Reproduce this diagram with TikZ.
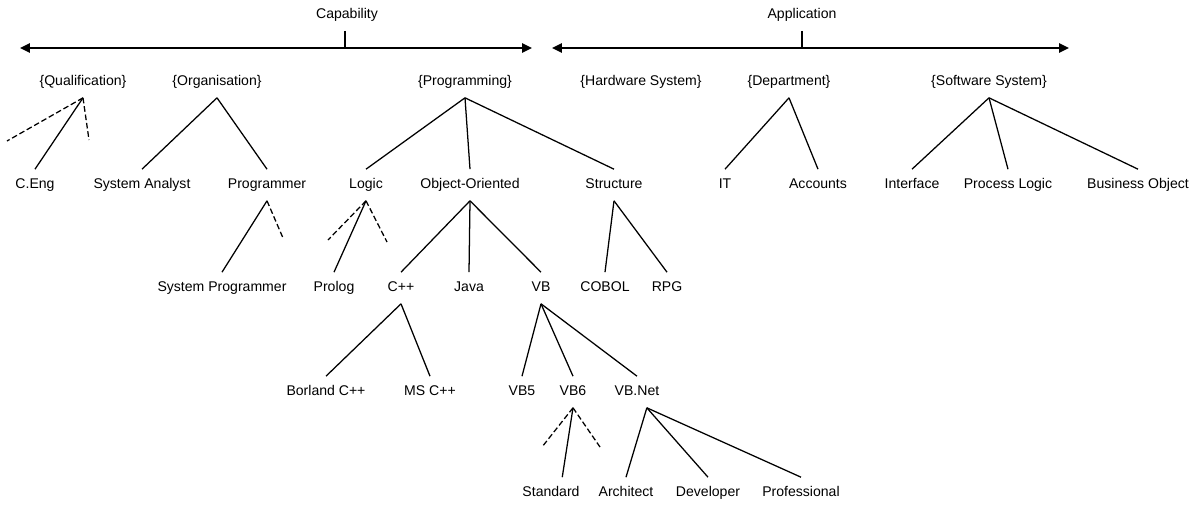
\documentclass[tikz,border=0pt]{standalone}
\usepackage{fontspec}
\setmainfont{Liberation Sans}
\usepackage{tikz}
\usetikzlibrary{arrows.meta}

\tikzset{
  lbl/.style={inner sep=0pt, outer sep=6.5pt, text height=7.5pt, text depth=2pt,
              font=\fontsize{10}{12}\selectfont},
  link/.style={line width=0.9pt},
  stub/.style={line width=0.9pt, dash pattern=on 4pt off 2pt},
  axis/.style={line width=1.2pt, {Triangle[length=7pt,width=6.5pt]}-{Triangle[length=7pt,width=6.5pt]}}
}

\begin{document}
\begin{tikzpicture}[x=0.025cm, y=-0.025cm]
  \useasboundingbox (0,0) rectangle (1203,507);

  % the two axes
  \coordinate (capL) at (20,48);
  \coordinate (capR) at (532,48);
  \coordinate (capT) at (345,48);
  \coordinate (appL) at (552,48);
  \coordinate (appR) at (1069,48);
  \coordinate (appT) at (802,48);
  \draw[axis] (capL) -- (capR);
  \draw[axis] (appL) -- (appR);
  \node[lbl] (cap) at (347,15) {Capability};
  \node[lbl] (app) at (802,15) {Application};
  \draw[link] (cap.south -| capT) -- (capT);
  \draw[link] (app.south) -- (appT);

  % first level
  \node[lbl] (qual) at (83,82)  {\{Qualification\}};
  \node[lbl] (org)  at (217,82) {\{Organisation\}};
  \node[lbl] (prog) at (465,82) {\{Programming\}};
  \node[lbl] (hw)   at (641,82) {\{Hardware System\}};
  \node[lbl] (dept) at (789,82) {\{Department\}};
  \node[lbl] (sw)   at (989,82) {\{Software System\}};

  % second level
  \node[lbl] (ceng)  at (35,185)   {C.Eng};
  \node[lbl] (sysan) at (142,185)  {System Analyst};
  \node[lbl] (progr) at (267,185)  {Programmer};
  \node[lbl] (logic) at (366,185)  {Logic};
  \node[lbl] (oo)    at (470,185)  {Object-Oriented};
  \node[lbl] (struc) at (614,185)  {Structure};
  \node[lbl] (it)    at (725,185)  {IT};
  \node[lbl] (acc)   at (818,185)  {Accounts};
  \node[lbl] (iface) at (912,185)  {Interface};
  \node[lbl] (plog)  at (1008,185) {Process Logic};
  \node[lbl] (bobj)  at (1138,185) {Business Object};

  % third level
  \node[lbl] (sysprog) at (222,288) {System Programmer};
  \node[lbl] (prolog)  at (334,288) {Prolog};
  \node[lbl] (cpp)     at (401,288) {C++};
  \node[lbl] (java)    at (469,288) {Java};
  \node[lbl] (vb)      at (541,288) {VB};
  \node[lbl] (cobol)   at (605,288) {COBOL};
  \node[lbl] (rpg)     at (667,288) {RPG};

  % fourth level
  \node[lbl] (borland) at (326,392) {Borland C++};
  \node[lbl] (mscpp)   at (430,392) {MS C++};
  \node[lbl] (vbfive)  at (522,392) {VB5};
  \node[lbl] (vbsix)   at (573,392) {VB6};
  \node[lbl] (vbnet)   at (637,392) {VB.Net};

  % fifth level
  \node[lbl] (std)  at (551,493) {Standard};
  \node[lbl] (arch) at (626,493) {Architect};
  \node[lbl] (dev)  at (708,493) {Developer};
  \node[lbl] (pro)  at (801,493) {Professional};

  % loose ends of the dashed stubs
  \coordinate (qualA)  at (7,141);
  \coordinate (qualB)  at (89,140);
  \coordinate (progrA) at (283,238);
  \coordinate (logicA) at (328,240);
  \coordinate (logicB) at (387,242);
  \coordinate (vbsixA) at (542,447);
  \coordinate (vbsixB) at (600,447);

  \draw[link] (qual.south) -- (ceng.north);
  \draw[stub] (qual.south) -- (qualA);
  \draw[stub] (qual.south) -- (qualB);
  \draw[link] (org.south) -- (sysan.north);
  \draw[link] (org.south) -- (progr.north);
  \draw[link] (prog.south) -- (logic.north);
  \draw[link] (prog.south) -- (oo.north);
  \draw[link] (prog.south) -- (struc.north);
  \draw[link] (dept.south) -- (it.north);
  \draw[link] (dept.south) -- (acc.north);
  \draw[link] (sw.south) -- (iface.north);
  \draw[link] (sw.south) -- (plog.north);
  \draw[link] (sw.south) -- (bobj.north);

  \draw[link] (progr.south) -- (sysprog.north);
  \draw[stub] (progr.south) -- (progrA);
  \draw[link] (logic.south) -- (prolog.north);
  \draw[stub] (logic.south) -- (logicA);
  \draw[stub] (logic.south) -- (logicB);
  \draw[link] (oo.south) -- (cpp.north);
  \draw[link] (oo.south) -- (java.north);
  \draw[link] (oo.south) -- (vb.north);
  \draw[link] (struc.south) -- (cobol.north);
  \draw[link] (struc.south) -- (rpg.north);

  \draw[link] (cpp.south) -- (borland.north);
  \draw[link] (cpp.south) -- (mscpp.north);
  \draw[link] (vb.south) -- (vbfive.north);
  \draw[link] (vb.south) -- (vbsix.north);
  \draw[link] (vb.south) -- (vbnet.north);

  \draw[link] (vbsix.south) -- ([xshift=8pt]std.north);
  \draw[stub] (vbsix.south) -- (vbsixA);
  \draw[stub] (vbsix.south) -- (vbsixB);
  \draw[link] ([xshift=7pt]vbnet.south) -- (arch.north);
  \draw[link] ([xshift=7pt]vbnet.south) -- (dev.north);
  \draw[link] ([xshift=7pt]vbnet.south) -- (pro.north);
\end{tikzpicture}
\end{document}
